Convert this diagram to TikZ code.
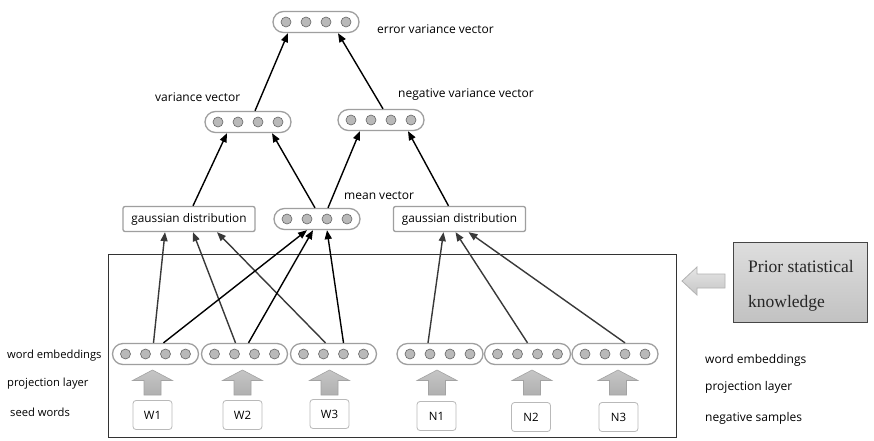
\documentclass[tikz,border=0pt]{standalone}
\usepackage{fontspec}
\setmainfont{Open Sans}
\newfontfamily\serifx{Liberation Serif}
\usetikzlibrary{arrows.meta,calc}
\tikzset{
 pill/.style={draw=gray!75, line width=1.3pt, rounded corners=10.5pt, minimum width=86pt, minimum height=21pt, inner sep=0pt, fill=white},
 dotc/.style={circle, draw=gray!80!black, fill=gray!55, line width=0.6pt, minimum size=10pt, inner sep=0pt},
 gbox/.style={draw=gray!75, line width=1.3pt, rounded corners=2pt, minimum width=132pt, minimum height=25pt, inner sep=2pt, font=\fontsize{11.8}{13}\selectfont},
 wbox/.style={draw=gray!55, line width=0.8pt, rounded corners=3pt, minimum width=39pt, minimum height=29pt, font=\fontsize{11.5}{13}\selectfont},
 lbl/.style={anchor=west, inner sep=0pt, font=\fontsize{12}{13}\selectfont},
 lbls/.style={anchor=west, inner sep=0pt, font=\fontsize{11.2}{13}\selectfont},
 ptext/.style={anchor=base west, inner sep=0pt, font=\serifx\fontsize{17.5}{20}\selectfont, text=black!85},
 blk/.style={-{Triangle[length=9pt,width=7pt]}, line width=1.4pt, black},
 gry/.style={-{Triangle[length=9pt,width=7pt]}, line width=1.4pt, gray!45!black},
 blockarr/.style={top color=gray!45, bottom color=gray!62, draw=gray!72, line width=0.6pt},
}
\newcommand\pillat[3]{%
 \node[pill] (#1) at (#2,#3) {};
 \foreach \dx/\k in {-30/a,-10/b,10/c,30/d} \node[dotc] (#1\k) at ([xshift=\dx pt]#1.center) {};
}
\newcommand\uparrowat[1]{%
 \draw[blockarr] (#1-8.5,395) -- (#1-8.5,380.5) -- (#1-20,380.5) -- (#1,370) -- (#1+20,380.5) -- (#1+8.5,380.5) -- (#1+8.5,395) -- cycle;}
\begin{document}
\begin{tikzpicture}[x=1pt,y=-1pt]
\useasboundingbox[fill=white] (0,0) rectangle (874,440);
% frame
\node[draw=black!80, line width=0.9pt, minimum width=568pt, minimum height=183pt, inner sep=0pt] (frame) at (392,345.5) {};
% pills
\pillat{err}{316}{22}
\pillat{var}{248}{122}
\pillat{nvar}{381}{120}
\pillat{mean}{317}{219}
\pillat{e1}{155.5}{354}
\pillat{e2}{244.5}{354}
\pillat{e3}{333.5}{354}
\pillat{e4}{440}{354}
\pillat{e5}{527.5}{354}
\pillat{e6}{615}{354}
% gaussian boxes
\node[gbox] (g1) at (189,219) {gaussian distribution};
\node[gbox] (g2) at (459.5,219) {gaussian distribution};
% labels
\node[lbl] (lerr) at (377,29) {error variance vector};
\node[lbl] (lvar) at (155,97) {variance vector};
\node[lbl] (lnvar) at (398,95) {negative variance vector};
\node[lbl] (lmean) at (344,196) {mean vector};
\node[lbls] (lw1) at (7,356) {word embeddings};
\node[lbls] (lp1) at (7,384) {projection layer};
\node[lbls] (ls1) at (10,412) {seed words};
\node[lbl] (lw2) at (705,360) {word embeddings};
\node[lbl] (lp2) at (705,387) {projection layer};
\node[lbl] (ls2) at (705,418) {negative samples};
% word boxes
\node[wbox] (w1) at (152.5,415) {W1};
\node[wbox] (w2) at (242.5,415) {W2};
\node[wbox] (w3) at (329.5,414) {W3};
\node[wbox] (n1) at (436.5,416) {N1};
\node[wbox] (n2) at (531,417) {N2};
\node[wbox] (n3) at (618.5,417) {N3};
% block arrows
\uparrowat{152.5}
\uparrowat{242.5}
\uparrowat{329.5}
\uparrowat{437}
\uparrowat{532}
\uparrowat{618}
% prior knowledge
\node[draw=gray!55!black, line width=0.8pt, top color=gray!26, bottom color=gray!48, minimum width=134pt, minimum height=80pt] (prior) at (800,282) {};
\node[ptext] (prior1) at (748,272) {Prior statistical};
\node[ptext] (prior2) at (748,307) {knowledge};
\draw[top color=gray!20, bottom color=gray!45, draw=gray!60, line width=0.8pt] (725,274) -- (697,274) -- (697,267) -- (682,281) -- (697,295) -- (697,288) -- (725,288) -- cycle;
% top connectors
\draw[blk] ([xshift=7pt]var.north) -- ([xshift=-28pt]err.south);
\draw[blk] ([xshift=2pt]nvar.north) -- ([xshift=22pt]err.south);
\draw[blk] ([xshift=4pt]g1.north) -- ([xshift=-21pt]var.south);
\draw[blk] ([xshift=-2pt]mean.north) -- ([xshift=24pt]var.south);
\draw[blk] ([xshift=11pt]mean.north) -- ([xshift=-21pt]nvar.south);
\draw[blk] ([xshift=-11pt]g2.north) -- ([xshift=27pt]nvar.south);
% lower connectors
\draw[gry] ([xshift=-2pt]e1.north) -- ([xshift=-24pt]g1.south);
\draw[gry] ([xshift=-9pt]e2.north) -- ([xshift=4pt]g1.south);
\draw[gry] ([xshift=-8pt]e3.north) -- ([xshift=28pt]g1.south);
\draw[blk] ([xshift=8pt]e1.north) -- ([xshift=-10pt]mean.south);
\draw[blk] ([xshift=4pt]e2.north) -- ([xshift=-4pt]mean.south);
\draw[blk] ([xshift=10pt]e3.north) -- ([xshift=10pt]mean.south);
\draw[gry] ([xshift=-12pt]e4.north) -- ([xshift=-16pt]g2.south);
\draw[gry] ([xshift=0pt]e5.north) -- ([xshift=-4pt]g2.south);
\draw[gry] ([xshift=10pt]e6.north) -- ([xshift=9pt]g2.south);
\end{tikzpicture}
\end{document}
